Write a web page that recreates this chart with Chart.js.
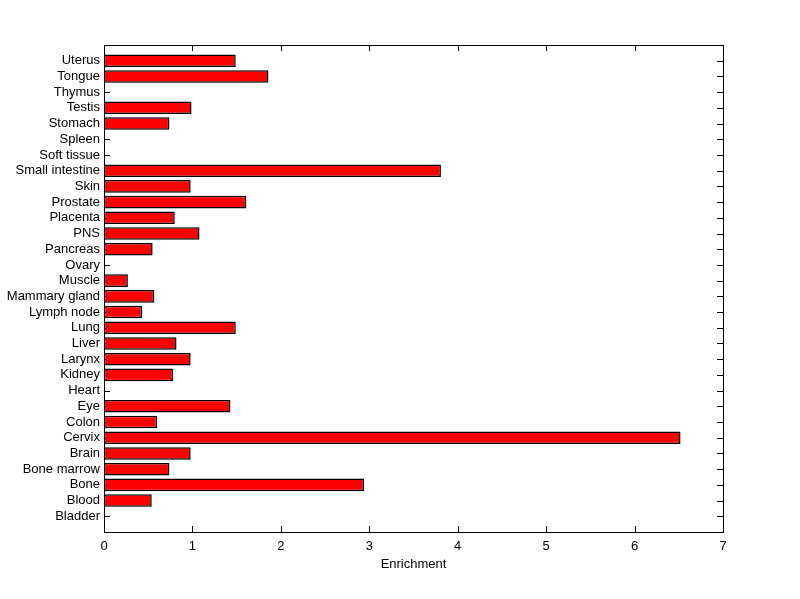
<!DOCTYPE html>
<html lang="en">
<head>
  <meta charset="UTF-8">
  <title>Enrichment by tissue</title>
  <script src="https://cdn.jsdelivr.net/npm/chart.js"></script>
  <style>
    body { margin: 0; background: #fff; }
  </style>
</head>
<body>
  <canvas id="enrichChart" width="800" height="599"></canvas>

  <script>
    // Tissues, bottom (1) to top (30), as in the barh plot
    const tissues = ['Bladder', 'Blood', 'Bone', 'Bone marrow', 'Brain', 'Cervix', 'Colon', 'Eye',
      'Heart', 'Kidney', 'Larynx', 'Liver', 'Lung', 'Lymph node', 'Mammary gland', 'Muscle',
      'Ovary', 'Pancreas', 'PNS', 'Placenta', 'Prostate', 'Skin', 'Small intestine',
      'Soft tissue', 'Spleen', 'Stomach', 'Testis', 'Thymus', 'Tongue', 'Uterus'];
    const enrichment = [0, 0.54, 2.94, 0.74, 0.98, 6.52, 0.60, 1.43,
      0, 0.78, 0.98, 0.82, 1.49, 0.43, 0.57, 0.27,
      0, 0.55, 1.08, 0.80, 1.61, 0.98, 3.81,
      0, 0, 0.74, 0.99, 0, 1.86, 1.49];
    const xTicks = [0, 1, 2, 3, 4, 5, 6, 7];

    const font = { family: '"Liberation Sans", Arial, sans-serif', size: 13 };

    // MATLAB style box with inward ticks on all four sides
    const boxTicks = {
      id: 'boxTicks',
      beforeDatasetsDraw(chart) {
        const { ctx, chartArea: a, scales } = chart;
        ctx.save();
        ctx.strokeStyle = '#000';
        ctx.lineWidth = 1;
        ctx.beginPath();
        xTicks.forEach(v => {
          const px = Math.round(scales.x.getPixelForValue(v)) + 0.5;
          ctx.moveTo(px, a.bottom); ctx.lineTo(px, a.bottom - 6);
          ctx.moveTo(px, a.top); ctx.lineTo(px, a.top + 6);
        });
        tissues.forEach((t, i) => {
          const py = Math.round(scales.y.getPixelForValue(i + 1)) + 0.5;
          ctx.moveTo(a.left, py); ctx.lineTo(a.left + 6, py);
          ctx.moveTo(a.right, py); ctx.lineTo(a.right - 6, py);
        });
        ctx.stroke();
        ctx.restore();
      },
      afterDraw(chart) {
        const { ctx, chartArea: a } = chart;
        ctx.save();
        ctx.strokeStyle = '#000';
        ctx.lineWidth = 1;
        ctx.strokeRect(Math.round(a.left) + 0.5, Math.round(a.top) + 0.5,
          Math.round(a.right - a.left), Math.round(a.bottom - a.top));
        ctx.restore();
      }
    };

    const ctx = document.getElementById('enrichChart').getContext('2d');
    new Chart(ctx, {
      type: 'bar',
      data: {
        datasets: [{
          data: enrichment.map((v, i) => ({ x: v, y: i + 1 })),
          backgroundColor: '#ff0000',
          borderColor: '#000000',
          borderWidth: 1.5,
          borderSkipped: false,
          inflateAmount: 0,
          barPercentage: 0.8,
          categoryPercentage: 1
        }]
      },
      plugins: [boxTicks],
      options: {
        indexAxis: 'y',
        responsive: false,
        animation: false,
        layout: { padding: { left: 0, top: 45, right: 77, bottom: 27 } },
        plugins: { legend: { display: false }, tooltip: { enabled: false } },
        scales: {
          x: {
            type: 'linear',
            min: 0,
            max: 7,
            grid: { display: false, drawTicks: false },
            border: { display: false },
            afterBuildTicks: s => { s.ticks = xTicks.map(v => ({ value: v })); },
            afterFit: s => { s.height = 40; },
            ticks: { color: '#000', font, padding: 7 },
            title: { display: true, text: 'Enrichment', color: '#000', font, padding: { top: 0, bottom: 0 } }
          },
          y: {
            type: 'linear',
            offset: false,
            min: 0,
            max: 31,
            grid: { display: false, drawTicks: false, offset: false },
            border: { display: false },
            afterBuildTicks: s => { s.ticks = tissues.map((t, i) => ({ value: i + 1 })); },
            afterFit: s => { s.width = 104; },
            ticks: {
              color: '#000',
              font,
              padding: 4,
              autoSkip: false,
              callback: v => tissues[v - 1] || ''
            }
          }
        }
      }
    });
  </script>
</body>
</html>
